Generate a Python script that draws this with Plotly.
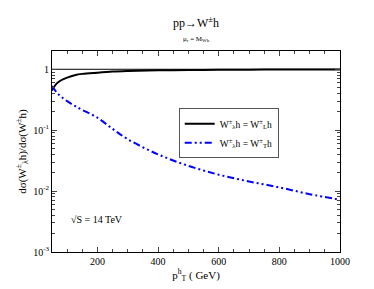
import plotly.graph_objects as go

pt = [50, 65, 80, 100, 125, 150, 200, 250, 300, 400, 500, 600, 700, 800, 900, 1000]
ratio_L = [0.45, 0.58, 0.66, 0.73, 0.80, 0.84, 0.88, 0.915, 0.935, 0.96, 0.972, 0.98, 0.985, 0.988, 0.99, 0.992]
ratio_T = [0.53, 0.42, 0.355, 0.30, 0.25, 0.215, 0.16, 0.105, 0.071, 0.04, 0.026, 0.0186, 0.0144, 0.0115, 0.0089, 0.0072]
ref_x = [50, 1000]
ref_y = [1, 1]

font = "Liberation Serif, Times New Roman, serif"

fig = go.Figure()
fig.add_trace(go.Scatter(x=ref_x, y=ref_y, mode="lines", line=dict(color="black", width=1),
                         showlegend=False, hoverinfo="skip"))
fig.add_trace(go.Scatter(x=pt, y=ratio_L, mode="lines", line=dict(color="black", width=2, shape="spline"),
                         name="W<sup>±</sup><sub>λ</sub>h = W<sup>±</sup><sub>L</sub>h"))
fig.add_trace(go.Scatter(x=pt, y=ratio_T, mode="lines",
                         line=dict(color="#0000ff", width=2, dash="7px,3px,2px,3px,2px,3px", shape="spline"),
                         name="W<sup>±</sup><sub>λ</sub>h = W<sup>±</sup><sub>T</sub>h"))

fig.update_layout(
    width=374, height=289,
    margin=dict(l=44, r=42, t=43, b=45),
    paper_bgcolor="white", plot_bgcolor="white",
    font=dict(family=font, size=10, color="black"),
    showlegend=True,
    legend=dict(x=0.44, y=0.715, xanchor="left", yanchor="top",
                bordercolor="#555", borderwidth=1, bgcolor="white",
                font=dict(family=font, size=9.5), tracegroupgap=0,
                itemwidth=30),
    xaxis=dict(range=[50, 1000], tickvals=[200, 400, 600, 800, 1000],
               ticks="inside", ticklen=5, mirror="ticks", showline=True, linecolor="black",
               linewidth=1, showgrid=False, zeroline=False,
               minor=dict(ticks="inside", ticklen=3, dtick=50, tick0=0, showgrid=False),
               title=dict(text="p<sup>h</sup><sub>T</sub> ( GeV)", font=dict(size=11), standoff=0),
               tickfont=dict(size=10)),
    yaxis=dict(type="log", range=[-3, 0.3],
               tickvals=[0.001, 0.01, 0.1, 1],
               ticktext=["10<sup>-3</sup>", "10<sup>-2</sup>", "10<sup>-1</sup>", "1"],
               ticks="inside", ticklen=5, mirror="ticks", showline=True, linecolor="black",
               linewidth=1, showgrid=False, zeroline=False,
               minor=dict(ticks="inside", ticklen=3, dtick="D1", showgrid=False),
               title=dict(text="dσ(W<sup>±</sup><sub>λ</sub>h)/dσ(W<sup>±</sup>h)", font=dict(size=11), standoff=4),
               tickfont=dict(size=10)),
    annotations=[
        dict(text="pp→W<sup>±</sup>h", x=0.5, y=1, xref="paper", yref="paper",
             xanchor="center", yanchor="bottom", yshift=19, showarrow=False, font=dict(size=12)),
        dict(text="μ<sub>r</sub> = M<sub>Wh</sub>", x=0.5, y=1, xref="paper", yref="paper",
             xanchor="center", yanchor="bottom", yshift=6, showarrow=False, font=dict(size=7)),
        dict(text="√S = 14 TeV", x=0.06, y=0.16, xref="paper", yref="paper",
             xanchor="left", yanchor="middle", showarrow=False, font=dict(size=10)),
    ],
)

fig.write_html("out.html")
